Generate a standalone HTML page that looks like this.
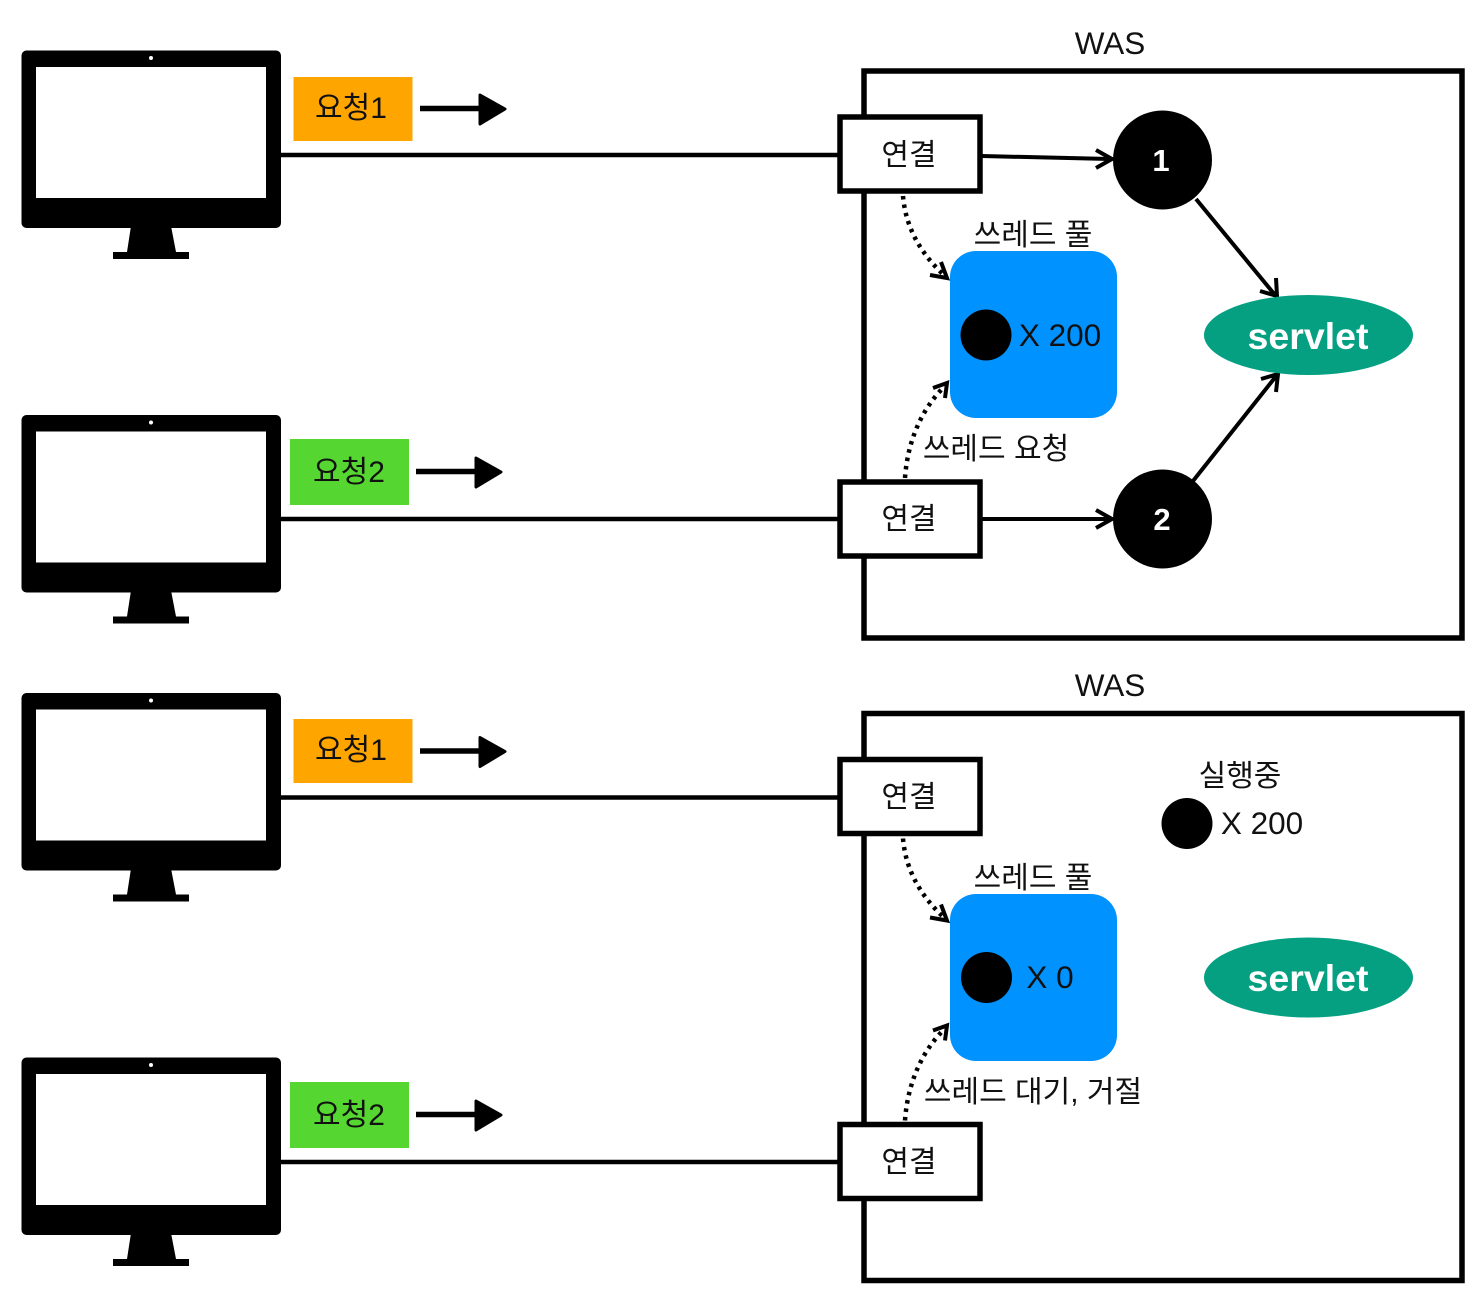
<!DOCTYPE html>
<html><head><meta charset="utf-8">
<style>
html,body{margin:0;padding:0;background:#fff}
svg{display:block}
text{font-family:"Liberation Sans","Noto Sans CJK KR",sans-serif;fill:#111;text-anchor:middle}
.m{font-size:31.500px}
.k{font-size:30px}
.n{font-size:31px;font-weight:bold;stroke:#fff;stroke-width:0}
</style></head><body>
<svg width="1484" height="1308" viewBox="0 0 1484 1308" xmlns="http://www.w3.org/2000/svg">
<defs>
<g id="mon">
<rect x="21.500" y="50.500" width="259.500" height="177.500" rx="5" fill="#000"/>
<rect x="36" y="67" width="230" height="131" fill="#fff"/>
<circle cx="151" cy="58" r="2" fill="#fff"/>
<path d="M131 226H171L176 252H189V259H113V252H127Z" fill="#000"/>
</g>
<g id="fat">
<path d="M420 108.500H485" stroke="#000" stroke-width="5.500" fill="none"/>
<path d="M480 95L505 109L480 124Z" fill="#000" stroke="#000" stroke-width="3" stroke-linejoin="round"/>
</g>
<g id="arrows" fill="none" stroke="#000">
<path d="M903 196C906 232 925 258 946 277" stroke-width="4.500" stroke-dasharray="3.500 5"/>
<path d="M930 275L947 278L941 262" stroke-width="4"/>
<path d="M905 478C908 436 925 405 946 385" stroke-width="4.500" stroke-dasharray="3.500 5"/>
<path d="M933 388L947 383L945 398" stroke-width="4"/>
</g>
<g id="box">
<rect x="840" y="117" width="140" height="74" fill="#fff" stroke="#000" stroke-width="5.500"/>
</g>
</defs>
<rect width="1484" height="1308" fill="#fff"/>

<!-- top panel -->
<rect x="864" y="71" width="598" height="567" fill="none" stroke="#000" stroke-width="5.500"/>
<text class="m" x="1110" y="54">WAS</text>

<use href="#mon"/>
<use href="#mon" y="364.500"/>
<path d="M281 155H840M281 519H840" stroke="#000" stroke-width="4.500"/>
<rect x="293.500" y="77" width="119" height="64" fill="#ffa500"/>
<text class="k" x="351" y="118">요청1</text>
<use href="#fat"/>
<rect x="290" y="439" width="119" height="66" fill="#55d630"/>
<text class="k" x="349" y="482">요청2</text>
<use href="#fat" x="-4" y="363"/>

<use href="#box"/>
<use href="#box" y="365"/>
<text class="k" x="909" y="165">연결</text>
<text class="k" x="909" y="529">연결</text>

<rect x="950" y="251" width="167" height="167" rx="26" fill="#0092ff"/>
<circle cx="986" cy="335" r="25.500" fill="#000"/>
<text class="m" x="1060" y="346">X 200</text>
<text class="k" x="1033" y="245">쓰레드 풀</text>
<text class="k" x="996" y="459">쓰레드 요청</text>
<use href="#arrows"/>

<path d="M982 156L1110 159M1096 150L1112 159L1096 168" fill="none" stroke="#000" stroke-width="4"/>
<path d="M982 519H1110M1096 510L1112 519L1096 528" fill="none" stroke="#000" stroke-width="4"/>
<circle cx="1162.500" cy="160" r="49.500" fill="#000"/>
<circle cx="1162.500" cy="519" r="49.500" fill="#000"/>
<text class="n" x="1161" y="171" style="fill:#fff">1</text>
<text class="n" x="1162" y="530" style="fill:#fff">2</text>
<path d="M1196 199L1275 295M1260 291L1277 296L1276 278" fill="none" stroke="#000" stroke-width="4"/>
<path d="M1193 481L1277 375M1261 379L1278 374L1276 392" fill="none" stroke="#000" stroke-width="4"/>
<ellipse cx="1308.500" cy="335" rx="104.500" ry="40" fill="#05a081"/>
<text x="1308" y="349" style="fill:#fff;font-size:37.500px;font-weight:bold">servlet</text>

<!-- bottom panel -->
<rect x="864" y="713.500" width="598" height="567" fill="none" stroke="#000" stroke-width="5.500"/>
<text class="m" x="1110" y="696">WAS</text>

<use href="#mon" y="642.500"/>
<use href="#mon" y="1007"/>
<path d="M281 797.500H840M281 1162H840" stroke="#000" stroke-width="4.500"/>
<rect x="293.500" y="719" width="119" height="64" fill="#ffa500"/>
<text class="k" x="351" y="760">요청1</text>
<use href="#fat" y="642.500"/>
<rect x="290" y="1082" width="119" height="66" fill="#55d630"/>
<text class="k" x="349" y="1125">요청2</text>
<use href="#fat" x="-4" y="1006"/>

<use href="#box" y="642.500"/>
<use href="#box" y="1007.500"/>
<text class="k" x="909" y="807">연결</text>
<text class="k" x="909" y="1172">연결</text>

<rect x="950" y="894" width="167" height="167" rx="26" fill="#0092ff"/>
<circle cx="986.500" cy="977.500" r="25.500" fill="#000"/>
<text class="m" x="1050" y="988">X 0</text>
<text class="k" x="1033" y="888">쓰레드 풀</text>
<text class="k" x="1033" y="1102">쓰레드 대기, 거절</text>
<use href="#arrows" y="642.500"/>

<text class="k" x="1240" y="786">실행중</text>
<circle cx="1187" cy="823.500" r="25.500" fill="#000"/>
<text class="m" x="1262" y="834">X 200</text>
<ellipse cx="1308.500" cy="977.500" rx="104.500" ry="40" fill="#05a081"/>
<text x="1308" y="991" style="fill:#fff;font-size:37.500px;font-weight:bold">servlet</text>
</svg>
</body></html>
